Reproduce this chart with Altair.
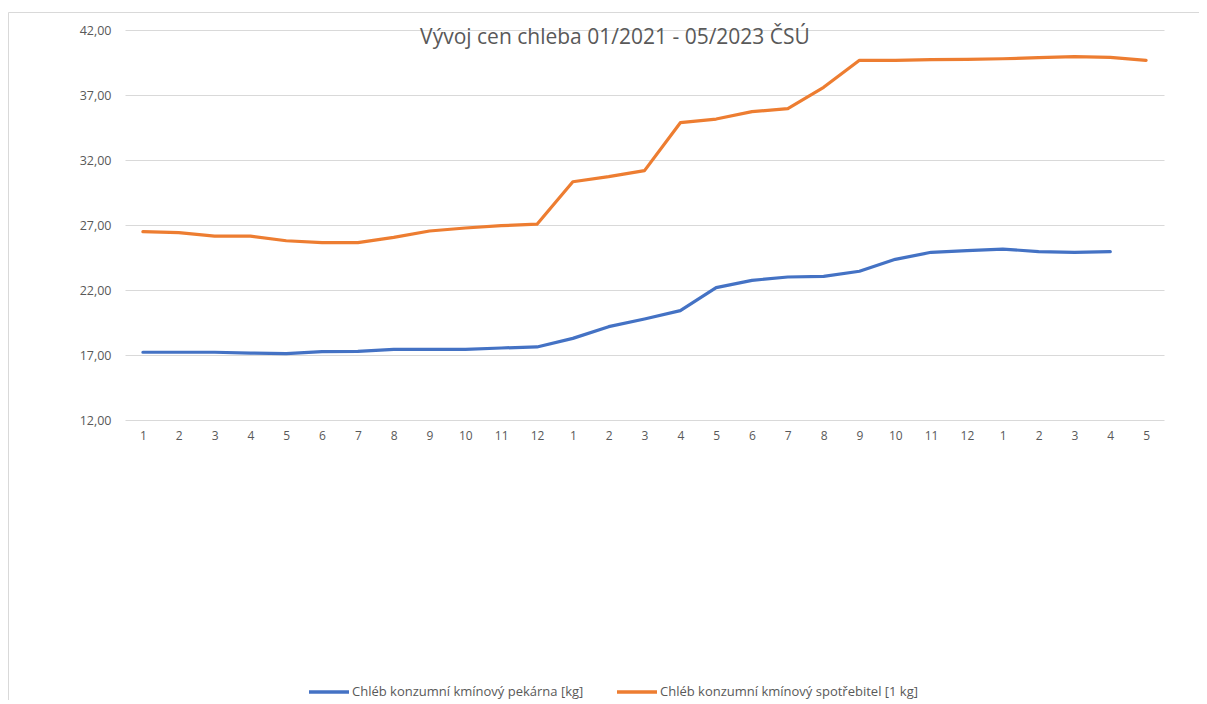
import altair as alt
import pandas as pd

periods = [f"{y}-{m:02d}" for y in (2021, 2022) for m in range(1, 13)] + [f"2023-{m:02d}" for m in range(1, 6)]

pekarna = [17.21, 17.21, 17.21, 17.15, 17.10, 17.26, 17.28, 17.44, 17.44, 17.44, 17.54, 17.62,
           18.28, 19.18, 19.77, 20.41, 22.18, 22.74, 23.00, 23.05, 23.44, 24.36, 24.90, 25.03,
           25.15, 24.95, 24.90, 24.95, None]
spotrebitel = [26.49, 26.41, 26.15, 26.15, 25.79, 25.64, 25.64, 26.05, 26.54, 26.77, 26.95, 27.06,
               30.33, 30.72, 31.18, 34.87, 35.15, 35.72, 35.95, 37.59, 39.67, 39.67, 39.72, 39.74,
               39.79, 39.87, 39.95, 39.90, 39.67]

series_names = ["Chléb konzumní kmínový pekárna [kg]", "Chléb konzumní kmínový spotřebitel [1 kg]"]
series_colors = ["#4472C4", "#ED7D31"]
y_ticks = [12, 17, 22, 27, 32, 37, 42]
title_text = "Vývoj cen chleba 01/2021 - 05/2023 ČSÚ"

rows = []
for p, a, b in zip(periods, pekarna, spotrebitel):
    if a is not None:
        rows.append({"period": p, "series": series_names[0], "value": a})
    if b is not None:
        rows.append({"period": p, "series": series_names[1], "value": b})
df = pd.DataFrame(rows)

W, H = 1039, 390

lines = alt.Chart(df).mark_line(strokeWidth=3.2, strokeCap="round", strokeJoin="round").encode(
    x=alt.X("period:O", sort=periods, scale=alt.Scale(domain=periods, paddingInner=0, paddingOuter=0),
            axis=alt.Axis(title=None, labelExpr="toNumber(substring(datum.value, 5, 7))",
                          labelAngle=0, labelFontSize=12, labelColor="#595959", labelFont="Open Sans",
                          labelPadding=10, ticks=False, domain=False, grid=False)),
    y=alt.Y("value:Q", scale=alt.Scale(domain=[12, 42], nice=False, zero=False),
            axis=alt.Axis(title=None, values=y_ticks,
                          labelExpr="replace(format(datum.value, '.2f'), '.', ',')",
                          labelFontSize=12.5, labelColor="#595959", labelFont="Open Sans",
                          labelPadding=14, ticks=False, domain=False, grid=True,
                          gridColor="#d9d9d9", gridWidth=1)),
    color=alt.Color("series:N", scale=alt.Scale(domain=series_names, range=series_colors),
                    legend=alt.Legend(title=None, orient="none", direction="horizontal",
                                      legendX=182, legendY=640, symbolType="stroke",
                                      symbolSize=1600, symbolStrokeWidth=3.5,
                                      labelFontSize=13, labelColor="#595959", labelFont="Open Sans",
                                      labelLimit=0, labelOffset=1, columnPadding=26)),
)

dummy = pd.DataFrame({"a": [0]})
frame = alt.Chart(dummy).mark_rect(fill=None, stroke="#d9d9d9", strokeWidth=1).encode(
    x=alt.value(-116.5), x2=alt.value(1200), y=alt.value(-17.5), y2=alt.value(800)
)
title = alt.Chart(dummy).mark_text(fontSize=21, font="Open Sans", color="#595959",
                                   align="center", baseline="middle").encode(
    x=alt.value(490), y=alt.value(8), text=alt.value(title_text)
)

chart = alt.layer(frame, lines, title).properties(
    width=W, height=H,
    autosize=alt.AutoSizeParams(type="none"),
    padding={"left": 117, "top": 22, "right": 35, "bottom": 280},
).configure_view(stroke=None)

chart.save("out.html", embed_options={"renderer": "svg", "actions": False})
